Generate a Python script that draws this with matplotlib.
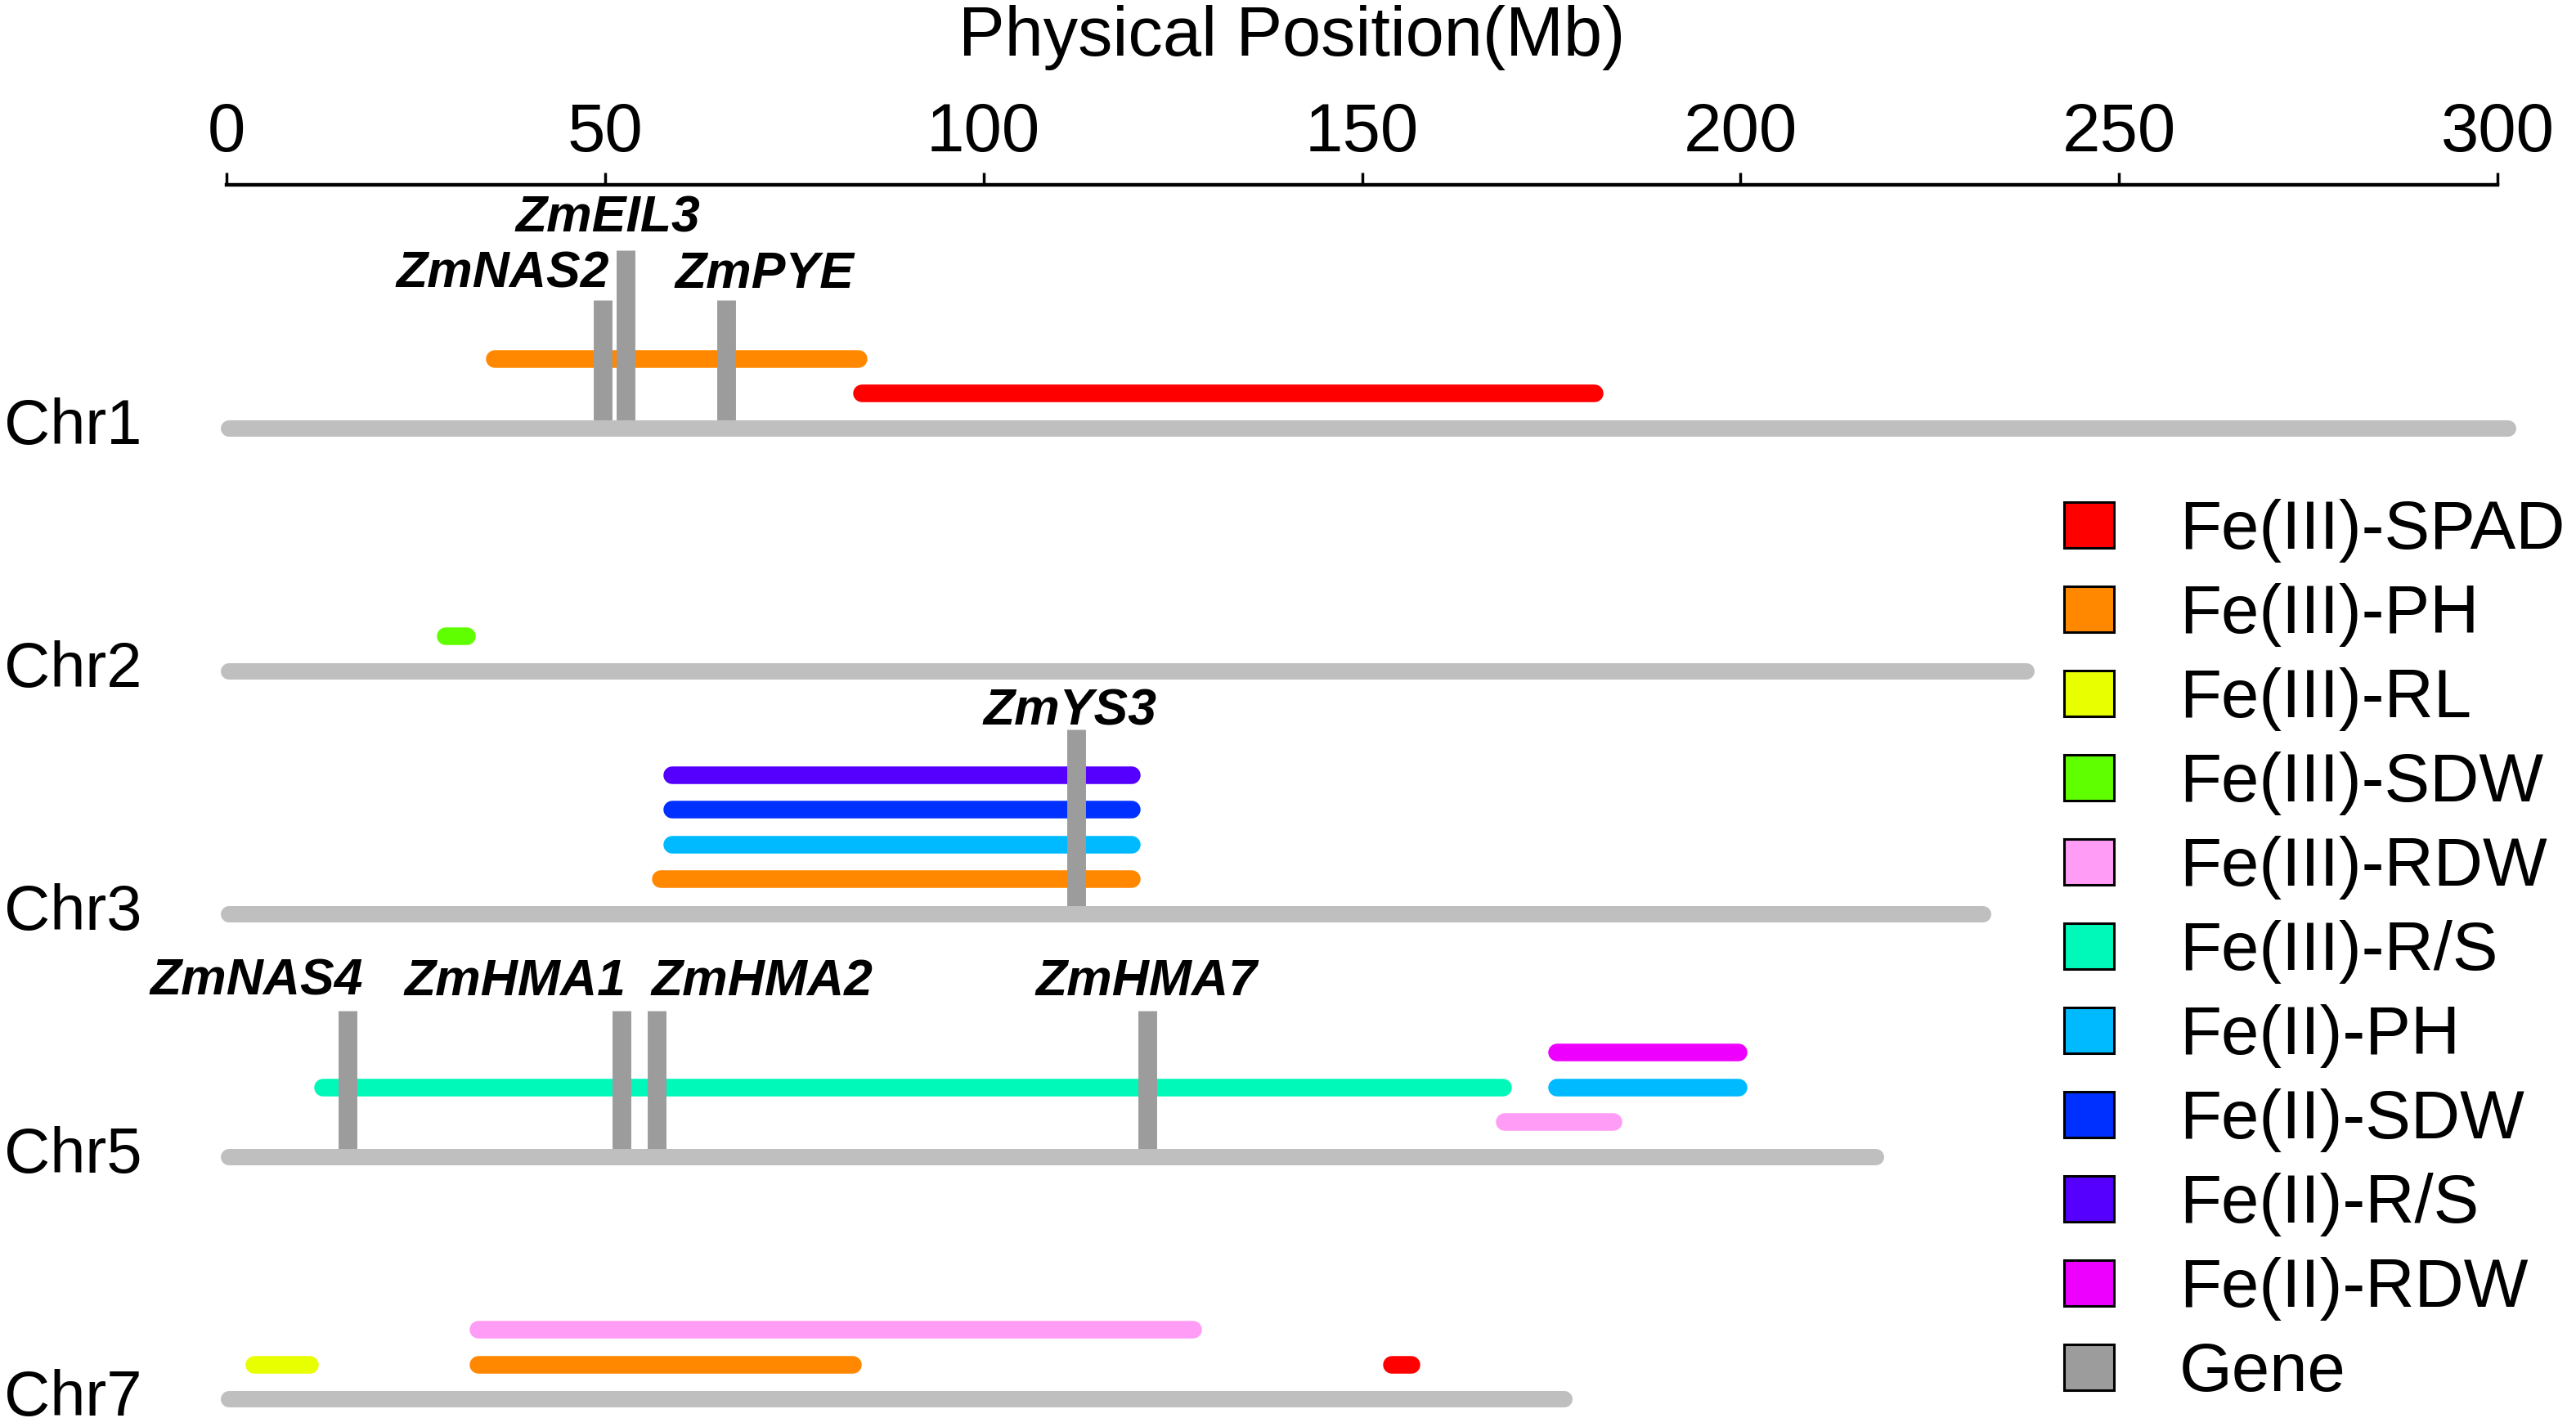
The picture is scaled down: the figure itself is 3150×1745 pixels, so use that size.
import matplotlib
matplotlib.use("Agg")
import matplotlib.pyplot as plt
from matplotlib.patches import Patch

plt.rcParams['font.family'] = ['Liberation Sans', 'DejaVu Sans']

# chromosomes (Mb)
chroms = ['Chr1', 'Chr2', 'Chr3', 'Chr5', 'Chr7']
chrom_start = [0.3, 0.3, 0.3, 0.3, 0.3]
chrom_end = [301.4, 237.8, 232.1, 217.9, 176.7]

# traits / legend
traits = ['Fe(III)-SPAD', 'Fe(III)-PH', 'Fe(III)-RL', 'Fe(III)-SDW', 'Fe(III)-RDW',
          'Fe(III)-R/S', 'Fe(II)-PH', 'Fe(II)-SDW', 'Fe(II)-R/S', 'Fe(II)-RDW']
trait_colors = ['#ff0000', '#ff8800', '#e8ff00', '#5fff00', '#ff9cf6',
                '#00f8b8', '#00baff', '#0030ff', '#5500ff', '#ee00ff']

# QTL intervals (Mb) and the track they sit on above the chromosome
qtl_chrom = ['Chr1', 'Chr1', 'Chr2', 'Chr3', 'Chr3', 'Chr3', 'Chr3',
             'Chr5', 'Chr5', 'Chr5', 'Chr5', 'Chr7', 'Chr7', 'Chr7', 'Chr7']
qtl_trait = ['Fe(III)-PH', 'Fe(III)-SPAD', 'Fe(III)-SDW',
             'Fe(II)-R/S', 'Fe(II)-SDW', 'Fe(II)-PH', 'Fe(III)-PH',
             'Fe(III)-R/S', 'Fe(II)-RDW', 'Fe(II)-PH', 'Fe(III)-RDW',
             'Fe(III)-RDW', 'Fe(III)-PH', 'Fe(III)-RL', 'Fe(III)-SPAD']
qtl_start = [35.4, 83.9, 29.0, 58.9, 58.9, 58.9, 57.4,
             12.8, 175.8, 175.8, 168.8, 33.3, 33.3, 3.7, 153.9]
qtl_end = [83.5, 180.7, 31.8, 119.6, 119.6, 119.6, 119.6,
           168.6, 199.8, 199.8, 183.2, 127.7, 82.7, 11.0, 156.5]
qtl_track = [2, 1, 1, 4, 3, 2, 1, 2, 3, 2, 1, 2, 1, 1, 1]

# candidate genes
genes = ['ZmNAS2', 'ZmEIL3', 'ZmPYE', 'ZmYS3', 'ZmNAS4', 'ZmHMA1', 'ZmHMA2', 'ZmHMA7']
gene_chrom = ['Chr1', 'Chr1', 'Chr1', 'Chr3', 'Chr5', 'Chr5', 'Chr5', 'Chr5']
gene_pos = [49.7, 52.7, 66.0, 112.2, 16.0, 52.2, 56.8, 121.6]

# drawing layout for the gene marks and their labels
gene_top = [3.69, 5.13, 3.69, 5.32, 4.19, 4.19, 4.19, 4.19]
label_x = [36.5, 50.4, 71.1, 111.4, 4.0, 38.1, 70.7, 121.5]
label_y = [4.05, 5.65, 4.05, 5.44, 4.66, 4.66, 4.66, 4.66]

chrom_color = '#bfbfbf'
gene_color = '#9c9c9c'

W, H = 3150, 1745
fig = plt.figure(figsize=(W / 100, H / 100), dpi=100)
ax = fig.add_axes([277 / W, 0.0061, (3054 - 277) / W, 0.8646])
ax.set_xlim(0, 300)
ax.set_ylim(-35.5, 0)

row_y = {c: -(7.02 + 6.985 * i) for i, c in enumerate(chroms)}
col = dict(zip(traits, trait_colors))

for c, s, e in zip(chroms, chrom_start, chrom_end):
    y = row_y[c]
    ax.plot([s, e], [y, y], color=chrom_color, lw=14.4, solid_capstyle='round',
            zorder=4, clip_on=False)
    ax.text(-277 / 9.257 + 0.5, y - 0.45, c, fontsize=56, ha='left', va='baseline')

for c, t, s, e, k in zip(qtl_chrom, qtl_trait, qtl_start, qtl_end, qtl_track):
    y = row_y[c] + k
    ax.plot([s, e], [y, y], color=col[t], lw=15.5, solid_capstyle='round', zorder=2)

for g, c, p, top, lx, ly in zip(genes, gene_chrom, gene_pos, gene_top, label_x, label_y):
    y = row_y[c]
    ax.plot([p, p], [y, y + top], color=gene_color, lw=16.5, solid_capstyle='butt', zorder=3)
    ax.text(lx, y + ly, g, fontsize=45, fontweight='bold', fontstyle='italic',
            ha='center', va='baseline')

# top axis
for s in ['left', 'right', 'bottom']:
    ax.spines[s].set_visible(False)
ax.spines['top'].set_linewidth(3.2)
ax.set_yticks([])
ax.xaxis.set_ticks_position('top')
ax.set_xticks([0, 50, 100, 150, 200, 250, 300])
ax.tick_params(axis='x', direction='out', length=10.8, width=2.5, labelsize=60, pad=6)

fig.text(1580 / W, 1 - 68 / H, 'Physical Position(Mb)', fontsize=61,
         ha='center', va='baseline')

handles = [Patch(facecolor=c, edgecolor='black', linewidth=2.2) for c in trait_colors]
handles.append(Patch(facecolor=gene_color, edgecolor='black', linewidth=2.2))
fig.legend(handles, traits + ['Gene'], loc='upper left',
           bbox_to_anchor=(2524 / W, 1 - 610 / H), frameon=False, fontsize=60,
           handlelength=0.73, handleheight=0.65, handletextpad=0.96,
           labelspacing=0.3, borderpad=0, borderaxespad=0)

fig.savefig('out.png', dpi=100, facecolor='white')
